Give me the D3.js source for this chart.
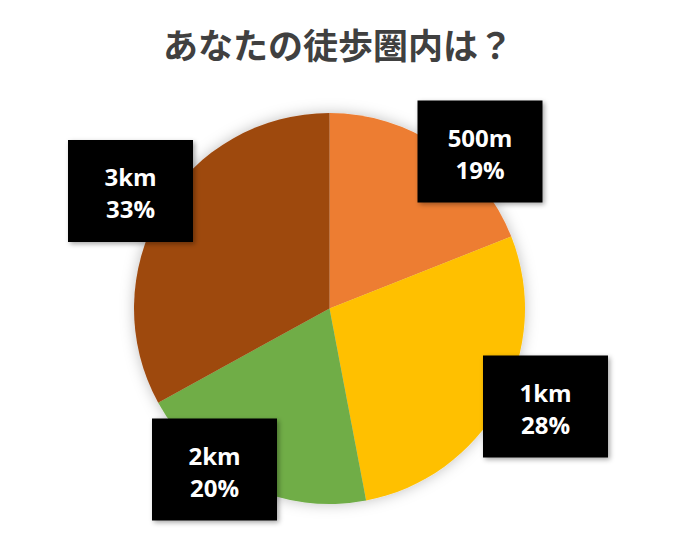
<!DOCTYPE html>
<html>
<head>
<meta charset="utf-8">
<script src="https://cdn.jsdelivr.net/npm/d3@7"></script>
<style>
  body { margin: 0; background: #fff; }
  svg { display: block; }
</style>
</head>
<body>
<script>
var width = 682, height = 541;

// data
var categories = ["500m", "1km", "2km", "3km"];
var shares = [19, 28, 20, 33];
var colors = ["#ED7D31", "#FFC000", "#70AD47", "#9E480E"];
// label box centres (data label placement, in px)
var labelBoxes = [[480, 151.5], [545.5, 406.5], [214.5, 469.5], [130.5, 191]];

var cx = 329.5, cy = 308.5, radius = 195.5;

var svg = d3.select("body").append("svg")
    .attr("width", width)
    .attr("height", height);

var defs = svg.append("defs");
defs.append("filter")
    .attr("id", "pieShadow")
    .attr("x", "-20%").attr("y", "-20%")
    .attr("width", "140%").attr("height", "140%")
    .append("feDropShadow")
    .attr("dx", 0).attr("dy", 0)
    .attr("stdDeviation", 7)
    .attr("flood-color", "#000")
    .attr("flood-opacity", 0.25);
defs.append("filter")
    .attr("id", "boxShadow")
    .attr("x", "-20%").attr("y", "-20%")
    .attr("width", "140%").attr("height", "140%")
    .append("feDropShadow")
    .attr("dx", 2).attr("dy", 2)
    .attr("stdDeviation", 2.5)
    .attr("flood-color", "#000")
    .attr("flood-opacity", 0.35);

// title
svg.append("text")
    .attr("x", 338)
    .attr("y", 59)
    .attr("text-anchor", "middle")
    .style("font-family", "'Noto Sans CJK JP', sans-serif")
    .style("font-weight", 700)
    .style("font-size", "35px")
    .style("fill", "#404040")
    .text("あなたの徒歩圏内は？");

var pie = d3.pie().sort(null).value(function(d) { return d; });
var arc = d3.arc().innerRadius(0).outerRadius(radius);
var color = d3.scaleOrdinal().domain(categories).range(colors);

var g = svg.append("g")
    .attr("transform", "translate(" + cx + "," + cy + ")")
    .attr("filter", "url(#pieShadow)");

g.selectAll("path")
    .data(pie(shares))
    .enter()
    .append("path")
    .attr("d", arc)
    .style("fill", function(d, i) { return color(categories[i]); });

// data labels
var boxW = 125, boxH = 102;
var labels = svg.selectAll(".label")
    .data(categories)
    .enter()
    .append("g")
    .attr("class", "label")
    .attr("transform", function(d, i) {
      return "translate(" + labelBoxes[i][0] + "," + labelBoxes[i][1] + ")";
    });

labels.append("rect")
    .attr("x", -boxW / 2)
    .attr("y", -boxH / 2)
    .attr("width", boxW)
    .attr("height", boxH)
    .attr("filter", "url(#boxShadow)")
    .style("fill", "#000");

// two lines per label: category, then share
labels.append("text")
    .attr("text-anchor", "middle")
    .attr("y", -5)
    .style("font-family", "'Open Sans', sans-serif")
    .style("font-weight", 700)
    .style("font-size", "24px")
    .style("fill", "#fff")
    .text(function(d) { return d; });
labels.append("text")
    .attr("text-anchor", "middle")
    .attr("y", 27)
    .style("font-family", "'Open Sans', sans-serif")
    .style("font-weight", 700)
    .style("font-size", "24px")
    .style("fill", "#fff")
    .text(function(d, i) { return shares[i] + "%"; });
</script>
</body>
</html>
